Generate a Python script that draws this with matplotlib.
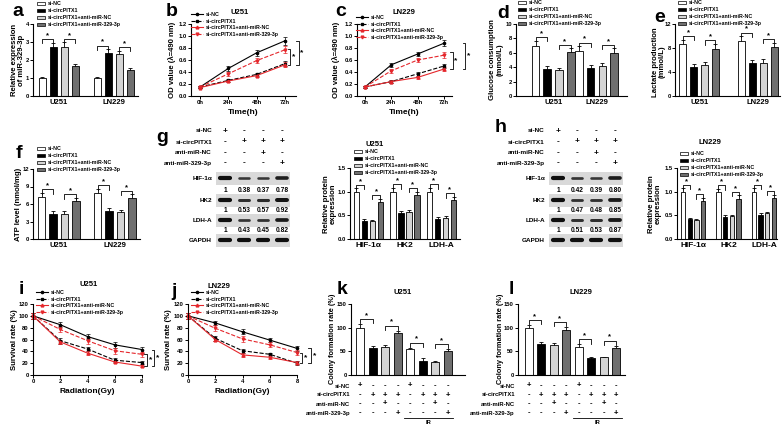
import numpy as np
import matplotlib
matplotlib.use('Agg')
import matplotlib.pyplot as plt
import matplotlib.transforms as mtransforms
from matplotlib.patches import Patch, Rectangle
from matplotlib.lines import Line2D

plt.rcParams['font.family'] = ['Liberation Sans', 'DejaVu Sans']
plt.rcParams['font.weight'] = 'bold'
plt.rcParams['axes.labelweight'] = 'bold'

W, H = 783, 426

# ---------------- data ----------------
groups = ['si-NC', 'si-circPITX1', 'si-circPITX1+anti-miR-NC', 'si-circPITX1+anti-miR-329-3p']
cells = ['U251', 'LN229']
proteins = ['HIF-1α', 'HK2', 'LDH-A']
times = ['0h', '24h', '48h', '72h']
doses = [0, 2, 4, 6, 8]
sign_rows = ['si-NC', 'si-circPITX1', 'anti-miR-NC', 'anti-miR-329-3p']
signs = [['+', '-', '-', '-'], ['-', '+', '+', '+'], ['-', '-', '+', '-'], ['-', '-', '-', '+']]

mir_mean = [[1.0, 2.70, 2.72, 1.65], [1.0, 2.38, 2.32, 1.45]]
mir_err = [[0.05, 0.27, 0.26, 0.13], [0.05, 0.22, 0.20, 0.13]]

glu_mean = [[6.9, 3.75, 3.55, 6.05], [6.3, 3.9, 4.1, 5.95]]
glu_err = [[0.8, 0.45, 0.4, 0.55], [0.6, 0.45, 0.45, 0.65]]

lac_mean = [[8.7, 4.85, 5.25, 7.8], [9.2, 5.5, 5.5, 8.2]]
lac_err = [[0.7, 0.5, 0.5, 0.9], [0.75, 0.55, 0.65, 0.7]]

atp_mean = [[7.25, 4.3, 4.35, 6.6], [7.9, 4.75, 4.55, 7.1]]
atp_err = [[0.65, 0.45, 0.5, 0.45], [0.7, 0.5, 0.45, 0.55]]

od_u251 = [[0.15, 0.46, 0.72, 0.92], [0.15, 0.26, 0.36, 0.54],
           [0.14, 0.25, 0.34, 0.52], [0.15, 0.37, 0.59, 0.77]]
od_u251_err = [[0.01, 0.04, 0.05, 0.07], [0.01, 0.02, 0.03, 0.04],
               [0.01, 0.02, 0.03, 0.04], [0.01, 0.03, 0.04, 0.06]]
od_ln229 = [[0.15, 0.52, 0.70, 0.88], [0.15, 0.24, 0.37, 0.50],
            [0.15, 0.24, 0.31, 0.45], [0.15, 0.42, 0.60, 0.68]]
od_ln229_err = [[0.01, 0.03, 0.04, 0.05], [0.01, 0.02, 0.03, 0.04],
                [0.01, 0.02, 0.03, 0.03], [0.01, 0.03, 0.04, 0.05]]

blot_u251 = [[1, 0.38, 0.37, 0.78], [1, 0.53, 0.57, 0.92], [1, 0.43, 0.45, 0.82]]
blot_ln229 = [[1, 0.42, 0.39, 0.80], [1, 0.47, 0.48, 0.85], [1, 0.51, 0.53, 0.87]]

prot_u251 = [[1.0, 0.38, 0.38, 0.79], [1.0, 0.55, 0.57, 0.92], [1.0, 0.43, 0.45, 0.82]]
prot_u251_err = [[0.07, 0.05, 0.03, 0.06], [0.08, 0.05, 0.05, 0.08], [0.08, 0.03, 0.03, 0.07]]
prot_ln229 = [[1.0, 0.42, 0.40, 0.80], [1.0, 0.47, 0.48, 0.85], [1.0, 0.51, 0.54, 0.87]]
prot_ln229_err = [[0.07, 0.03, 0.03, 0.07], [0.06, 0.04, 0.03, 0.07], [0.07, 0.04, 0.04, 0.07]]

surv_u251 = [[100, 85, 65, 51, 43], [100, 58, 44, 25, 21], [100, 56, 37, 22, 15], [100, 77, 58, 41, 35]]
surv_u251_err = [[5, 4, 4, 5, 5], [5, 5, 4, 3, 3], [5, 3, 3, 2, 2], [5, 5, 5, 5, 4]]
surv_ln229 = [[100, 88, 73, 59, 45], [100, 62, 41, 35, 20], [100, 60, 34, 30, 21], [100, 79, 61, 51, 38]]
surv_ln229_err = [[5, 4, 4, 4, 4], [5, 4, 3, 3, 3], [5, 3, 3, 3, 2], [5, 5, 5, 4, 4]]

col_u251 = [100, 57, 60, 88, 55, 30, 27, 50]
col_u251_err = [8, 5, 4, 6, 3, 5, 3, 5]
col_ln229 = [100, 65, 63, 96, 60, 35, 37, 58]
col_ln229_err = [6, 5, 5, 6, 5, 3, 2, 4]

# ---------------- helpers ----------------
bar_colors = ['white', 'black', '#d4d4d4', '#6f6f6f']
red = '#e5262b'
line_fmt = [dict(color='black', ls='-', marker='o', ms=1.6),
            dict(color='black', ls='--', marker='s', ms=1.6),
            dict(color=red, ls='-', marker='^', ms=2.0),
            dict(color=red, ls='--', marker='v', ms=2.0)]

fig = plt.figure(figsize=(W / 100, H / 100), dpi=100)
ov = fig.add_axes([0, 0, 1, 1])
ov.set_xlim(0, W)
ov.set_ylim(H, 0)
ov.axis('off')
ov.set_zorder(10)
ov.patch.set_visible(False)


def px_axes(x0, x1, y0, y1):
    ax = fig.add_axes([x0 / W, 1 - y1 / H, (x1 - x0) / W, (y1 - y0) / H])
    ax.spines[['top', 'right']].set_visible(False)
    ax.spines[['left', 'bottom']].set_linewidth(0.8)
    ax.tick_params(length=2, width=0.7, labelsize=4.2, pad=1)
    ax.patch.set_visible(False)
    return ax


def ylab(text, x, y, size=5.6):
    ov.text(x, y, text, rotation=90, ha='center', va='center', fontsize=size, linespacing=1.05)


def letter(t, x, y):
    ov.text(x, y, t, ha='center', va='center', fontsize=14, weight='bold')


def title(t, x, y):
    ov.text(x, y, t, ha='center', va='center', fontsize=5.5)


def bracket(ax, x1, x2, y, leg):
    ax.plot([x1, x1, x2, x2], [y - leg, y, y, y - leg], color='black', lw=0.6, clip_on=False)
    ax.text((x1 + x2) / 2, y, '*', ha='center', va='bottom', fontsize=5.5, clip_on=False)


def vbracket(ax, x, y1, y2, w, soff):
    ax.plot([x, x + w, x + w, x], [y1, y1, y2, y2], color='black', lw=0.6, clip_on=False)
    ax.text(x + w + soff, (y1 + y2) / 2, '*', ha='left', va='center', fontsize=6, clip_on=False)


def grouped_bars(ax, means, errs, gap, ymax, labels, lab_size=5.5):
    for g, (m, e) in enumerate(zip(means, errs)):
        xs = g * gap + np.arange(4)
        ax.bar(xs, m, width=0.65, color=bar_colors, edgecolor='black', linewidth=0.6, zorder=2)
        ax.errorbar(xs, m, yerr=e, fmt='none', ecolor='black', elinewidth=0.6,
                    capsize=1.3, capthick=0.6, zorder=1)
        for a, b in [(0, 1), (2, 3)]:
            top = max(m[a] + e[a], m[b] + e[b]) + 0.05 * ymax
            bracket(ax, xs[a], xs[b], top, 0.06 * ymax)
    ax.set_xticks([g * gap + 1.5 for g in range(len(means))])
    ax.set_xticklabels(labels, fontsize=lab_size)
    ax.tick_params(axis='x', length=0, pad=2)
    ax.set_ylim(0, ymax)


def bar_legend(ax, x, y):
    handles = [Patch(facecolor=c, edgecolor='black', linewidth=0.5) for c in bar_colors]
    ax.legend(handles, groups, loc='upper left', bbox_to_anchor=(x / W, 1 - y / H),
              bbox_transform=fig.transFigure, frameon=False, fontsize=3.8,
              handlelength=1.5, handleheight=0.55, handletextpad=0.6,
              labelspacing=0.38, borderpad=0, borderaxespad=0)


def line_panel(ax, x, series, errs):
    for s, e, f in zip(series, errs, line_fmt):
        ax.errorbar(x, s, yerr=e, lw=0.8, capsize=1.2, elinewidth=0.5, capthick=0.5, **f)
    for art in ax.lines + ax.collections:
        art.set_clip_on(False)


def line_legend(ax, x, y):
    handles = [Line2D([], [], lw=0.8, **f) for f in line_fmt]
    ax.legend(handles, groups, loc='upper left', bbox_to_anchor=(x / W, 1 - y / H),
              bbox_transform=fig.transFigure, frameon=False, fontsize=3.8,
              handlelength=2.2, handletextpad=0.6, labelspacing=0.3,
              borderpad=0, borderaxespad=0)


def blot(dx, bands):
    cols = [225 + dx, 244 + dx, 263 + dx, 282 + dx]
    for r, (name, row) in enumerate(zip(sign_rows, signs)):
        y = [131, 142, 153, 163][r]
        ov.text(212 + dx, y, name, ha='right', va='center', fontsize=4.6)
        for c, s in zip(cols, row):
            ov.text(c, y, s, ha='center', va='center', fontsize=6)
    band_y = [178, 200, 220, 240]
    num_y = [190, 211, 231]
    names = proteins + ['GAPDH']
    for r, name in enumerate(names):
        y = band_y[r]
        ov.add_patch(Rectangle((216 + dx, y - 6.5), 74, 13, facecolor='#d9d9d9', edgecolor='none'))
        vals = bands[r] if r < 3 else [1, 1, 1, 1]
        for c, v in zip(cols, vals):
            g = 0.06 + 0.25 * (1 - v)
            ov.plot([c - 5, c + 5], [y, y], color=(g, g, g), lw=(1.6 + 2.6 * v) * 0.72,
                    solid_capstyle='round')
        ov.text(212 + dx, y, name, ha='right', va='center', fontsize=4.6)
        if r < 3:
            for c, v in zip(cols, vals):
                ov.text(c, num_y[r], '1' if v == 1 else f'{v:.2f}', ha='center', va='center', fontsize=4.8)


def colony(ax, vals, errs, xlim, ymax, label_x):
    xs = np.arange(8)
    ax.bar(xs, vals, width=0.64, color=bar_colors * 2, edgecolor='black', linewidth=0.6, zorder=2)
    ax.errorbar(xs, vals, yerr=errs, fmt='none', ecolor='black', elinewidth=0.6,
                capsize=1.3, capthick=0.6, zorder=1)
    for a, b in [(0, 1), (2, 3), (4, 5), (6, 7)]:
        top = max(vals[a] + errs[a], vals[b] + errs[b]) + 0.07 * ymax
        bracket(ax, xs[a], xs[b], top, 0.06 * ymax)
    ax.set_xlim(*xlim)
    ax.set_ylim(0, ymax)
    ax.set_yticks([0, 50, 100, 150])
    ax.set_xticks([])
    tr = mtransforms.blended_transform_factory(ax.transData, ov.transData)
    ys = [386, 395, 404, 413]
    for r, (name, row) in enumerate(zip(sign_rows, signs)):
        ov.text(label_x, ys[r], name, ha='right', va='center', fontsize=4.2)
        for x, s in zip(xs, row * 2):
            ax.text(x, ys[r], s, transform=tr, ha='center', va='center', fontsize=5.5, clip_on=False)
    ax.plot([3.55, 7.45], [417.5, 417.5], transform=tr, color='black', lw=0.6, clip_on=False)
    ax.text(5.5, 422.5, 'IR', transform=tr, ha='center', va='center', fontsize=4.2, clip_on=False)


# ---------------- a ----------------
ax = px_axes(33, 138, 24, 96)
grouped_bars(ax, mir_mean, mir_err, 5, 4, cells)
ax.set_xlim(-0.86, 8.7)
ax.set_yticks([0, 1, 2, 3, 4])
bar_legend(ax, 37, 1)
ylab('Relative expression\nof miR-329-3p', 18, 60)
letter('a', 18, 12)

# ---------------- b ----------------
ax = px_axes(191, 296, 24, 96)
line_panel(ax, np.arange(4), od_u251, od_u251_err)
ax.set_xlim(-0.32, 3.39)
ax.set_ylim(0, 1.2)
ax.set_yticks(np.arange(0, 1.21, 0.2))
ax.set_yticklabels([f'{v:.1f}' for v in np.arange(0, 1.21, 0.2)])
ax.set_xticks(np.arange(4))
ax.set_xticklabels(times)
ax.set_xlabel('Time(h)', fontsize=6, labelpad=3)
vbracket(ax, 3.1, od_u251[3][3] + 0.02, od_u251[1][3] - 0.02, 0.08, 0.06)
vbracket(ax, 3.4, od_u251[0][3], od_u251[1][3] - 0.02, 0.08, 0.06)
line_legend(ax, 191, 12)
title('U251', 240, 13)
ylab('OD value (λ=490 nm)', 172, 60)
letter('b', 172, 12)

# ---------------- c ----------------
ax = px_axes(357, 452, 24, 96)
line_panel(ax, np.arange(4), od_ln229, od_ln229_err)
ax.set_xlim(-0.3, 3.3)
ax.set_ylim(0, 1.2)
ax.set_yticks(np.arange(0, 1.21, 0.2))
ax.set_yticklabels([f'{v:.1f}' for v in np.arange(0, 1.21, 0.2)])
ax.set_xticks(np.arange(4))
ax.set_xticklabels(times)
ax.set_xlabel('Time(h)', fontsize=6, labelpad=3)
vbracket(ax, 3.23, od_ln229[3][3] + 0.05, od_ln229[2][3], 0.1, 0.06)
vbracket(ax, 3.72, od_ln229[0][3] + 0.01, od_ln229[2][3], 0.08, 0.06)
line_legend(ax, 356, 15)
title('LN229', 404, 13)
ylab('OD value (λ=490 nm)', 336, 60)
letter('c', 341, 12)

# ---------------- d ----------------
ax = px_axes(516, 627, 24, 96)
grouped_bars(ax, glu_mean, glu_err, 3.7, 10, cells)
ax.set_xlim(-1.67, 7.8)
ax.set_yticks([0, 2, 4, 6, 8, 10])
bar_legend(ax, 518, 0)
ylab('Glucose consumption\n(mmol/L)', 496, 60)
letter('d', 503, 13)

# ---------------- e ----------------
ax = px_axes(675, 780, 24, 96)
grouped_bars(ax, lac_mean, lac_err, 5.4, 12, cells)
ax.set_xlim(-0.73, 8.95)
ax.set_yticks([0, 4, 8, 12])
bar_legend(ax, 678, 0)
ylab('Lactate production\n(mmol/L)', 659, 62)
letter('e', 660, 17)

# ---------------- f ----------------
ax = px_axes(33, 140, 169, 239)
grouped_bars(ax, atp_mean, atp_err, 4.9, 12, cells)
ax.set_xlim(-0.75, 8.6)
ax.set_yticks([0, 3, 6, 9, 12])
bar_legend(ax, 37, 146)
ylab('ATP level (nmol/mg)', 19, 204)
letter('f', 19, 154)

# ---------------- g ----------------
blot(0, blot_u251)
letter('g', 162, 138)
ax = px_axes(350, 460, 168, 239)
grouped_bars(ax, prot_u251, prot_u251_err, 4.6, 1.5, proteins, 6)
ax.set_xlim(-0.8, 13.0)
ax.set_yticks([0, 0.5, 1.0, 1.5])
ax.set_yticklabels(['0.0', '0.5', '1.0', '1.5'])
bar_legend(ax, 354, 149)
title('U251', 375, 145)
ylab('Relative protein\nexpression', 330, 204)

# ---------------- h ----------------
blot(333, blot_ln229)
letter('h', 501, 128)
ax = px_axes(677, 777, 168, 239)
grouped_bars(ax, prot_ln229, prot_ln229_err, 5.3, 1.5, proteins, 6)
ax.set_xlim(-0.9, 14.05)
ax.set_yticks([0, 0.5, 1.0, 1.5])
ax.set_yticklabels(['0.0', '0.5', '1.0', '1.5'])
bar_legend(ax, 680, 151)
title('LN229', 710, 143)
ylab('Relative protein\nexpression', 655, 204)

# ---------------- i ----------------
ax = px_axes(33, 142, 304, 375)
line_panel(ax, doses, surv_u251, surv_u251_err)
ax.set_xlim(0, 8)
ax.set_ylim(0, 120)
ax.set_yticks(np.arange(0, 121, 20))
ax.set_xticks(doses)
ax.set_xlabel('Radiation(Gy)', fontsize=6, labelpad=3)
vbracket(ax, 8.15, surv_u251[3][4], surv_u251[2][4], 0.2, 0.15)
vbracket(ax, 8.73, surv_u251[0][4], surv_u251[2][4], 0.15, 0.15)
line_legend(ax, 36, 290)
title('U251', 89, 285)
ylab('Survival rate (%)', 14, 340)
letter('i', 21, 290)

# ---------------- j ----------------
ax = px_axes(188, 297, 304, 375)
line_panel(ax, doses, surv_ln229, surv_ln229_err)
ax.set_xlim(0, 8)
ax.set_ylim(0, 120)
ax.set_yticks(np.arange(0, 121, 20))
ax.set_xticks(doses)
ax.set_xlabel('Radiation(Gy)', fontsize=6, labelpad=3)
vbracket(ax, 8.22, surv_ln229[3][4], surv_ln229[1][4], 0.15, 0.15)
vbracket(ax, 8.8, surv_ln229[0][4], surv_ln229[1][4], 0.2, 0.15)
line_legend(ax, 191, 290)
title('LN229', 219, 286)
ylab('Survival rate (%)', 169, 340)
letter('j', 174, 291)

# ---------------- k ----------------
ax = px_axes(351, 465, 304, 375)
colony(ax, col_u251, col_u251_err, (-0.72, 8.4), 150, 350)
title('U251', 403, 293)
ylab('Colony formation rate (%)', 333, 339, 5.3)
letter('k', 342, 290)

# ---------------- l ----------------
ax = px_axes(518, 625, 304, 375)
colony(ax, col_ln229, col_ln229_err, (-0.85, 7.7), 150, 515)
title('LN229', 581, 293)
ylab('Colony formation rate (%)', 500, 339, 5.3)
letter('l', 511, 290)

fig.savefig('out.png', dpi=100)
